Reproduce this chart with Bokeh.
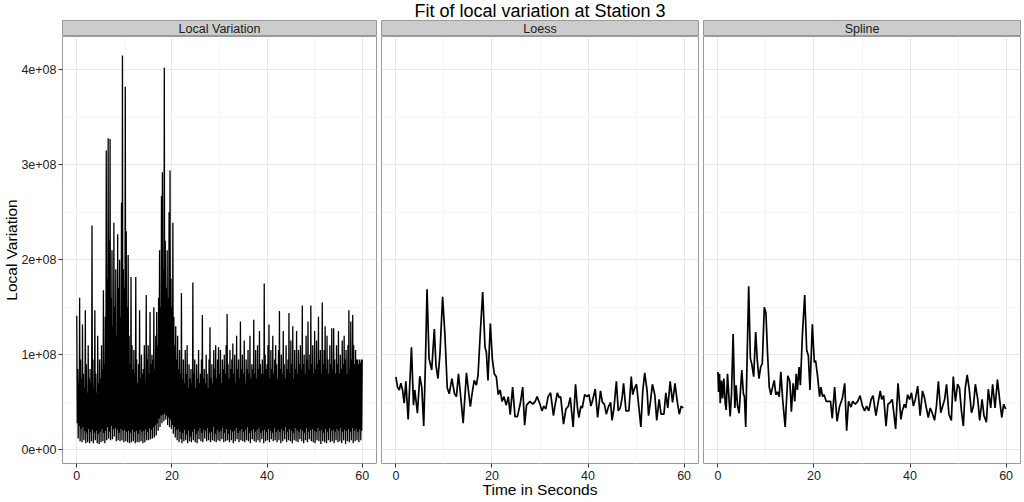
from bokeh.plotting import figure
from bokeh.models import (Range1d, FixedTicker, CustomJSTickFormatter, Label,
                          ColumnDataSource, Grid)
from bokeh.layouts import column, row
from bokeh.embed import file_html
from bokeh.resources import INLINE

TITLE = "Fit of local variation at Station 3"
PANELS = ["Local Variation", "Loess", "Spline"]
X_LABEL = "Time in Seconds"
Y_LABEL = "Local Variation"
x_ticks = [0, 20, 40, 60]
x_minor = [10, 30, 50]
y_ticks = [0, 1e8, 2e8, 3e8, 4e8]
y_minor = [0.5e8, 1.5e8, 2.5e8, 3.5e8]
SCALE = 1e8          # values below are in units of 1e8
LV_STEP = 0.1        # sampling interval (s) of the raw local variation

# one row per second (0.1 s samples), in units of 1e8
local_variation = [
    1.41, 0.28, 0.85, 0.12, 0.70, 0.25, 1.60, 0.09, 0.95, 0.22,
    0.75, 0.08, 1.32, 0.24, 0.80, 0.10, 0.65, 0.20, 1.47, 0.07,
    0.90, 0.18, 0.60, 0.08, 1.10, 0.22, 0.75, 0.07, 0.85, 0.19,
    0.70, 0.09, 2.36, 0.21, 0.95, 0.07, 0.65, 0.18, 1.47, 0.10,
    0.80, 0.20, 0.60, 0.07, 1.20, 0.17, 0.70, 0.06, 0.95, 0.19,
    0.75, 0.08, 1.10, 0.22, 0.85, 0.09, 1.68, 0.18, 0.90, 0.07,
    1.40, 0.20, 3.15, 0.10, 1.80, 0.24, 3.28, 0.12, 2.20, 0.19,
    3.27, 0.10, 1.60, 0.25, 2.10, 0.11, 1.30, 0.22, 2.39, 0.14,
    1.50, 0.23, 1.90, 0.09, 1.20, 0.21, 2.27, 0.10, 1.70, 0.18,
    2.00, 0.09, 1.40, 0.22, 2.60, 0.10, 4.15, 0.20, 1.90, 0.08,
    1.70, 0.21, 3.82, 0.09, 2.30, 0.19, 1.50, 0.08, 2.05, 0.20,
    1.20, 0.07, 0.90, 0.18, 1.82, 0.08, 1.10, 0.21, 0.85, 0.09,
    1.05, 0.19, 0.80, 0.07, 1.82, 0.20, 0.95, 0.08, 0.70, 0.17,
    0.90, 0.08, 1.47, 0.21, 0.75, 0.09, 1.00, 0.19, 0.80, 0.07,
    0.85, 0.20, 1.10, 0.08, 0.70, 0.22, 1.63, 0.10, 0.95, 0.19,
    1.10, 0.10, 0.80, 0.23, 1.45, 0.11, 0.90, 0.21, 1.00, 0.12,
    0.95, 0.24, 1.50, 0.13, 0.85, 0.26, 1.20, 0.15, 1.45, 0.28,
    1.10, 0.20, 1.60, 0.33, 2.10, 0.24, 1.50, 0.36, 2.67, 0.28,
    2.92, 0.37, 1.90, 0.30, 4.02, 0.38, 2.20, 0.32, 1.70, 0.36,
    2.10, 0.26, 1.60, 0.34, 2.50, 0.24, 2.94, 0.32, 1.80, 0.22,
    1.50, 0.26, 2.39, 0.17, 1.40, 0.24, 1.10, 0.13, 1.30, 0.21,
    0.95, 0.10, 1.20, 0.22, 0.85, 0.08, 1.05, 0.19, 0.80, 0.11,
    1.65, 0.07, 0.75, 0.18, 0.95, 0.09, 0.70, 0.21, 1.05, 0.10,
    0.80, 0.16, 1.10, 0.07, 0.65, 0.20, 0.90, 0.09, 0.75, 0.14,
    0.85, 0.08, 0.70, 0.19, 1.76, 0.10, 0.80, 0.22, 0.95, 0.08,
    0.65, 0.17, 0.90, 0.07, 0.75, 0.20, 1.05, 0.11, 0.70, 0.23,
    0.80, 0.09, 0.95, 0.18, 1.42, 0.08, 0.75, 0.21, 0.85, 0.12,
    0.70, 0.20, 1.00, 0.09, 0.80, 0.23, 0.65, 0.10, 0.95, 0.18,
    1.29, 0.08, 0.75, 0.19, 0.90, 0.10, 0.70, 0.24, 1.05, 0.09,
    0.85, 0.17, 1.10, 0.08, 0.75, 0.21, 0.95, 0.10, 1.08, 0.19,
    0.80, 0.09, 1.05, 0.20, 0.70, 0.11, 0.95, 0.23, 0.85, 0.08,
    1.00, 0.18, 0.80, 0.09, 1.10, 0.22, 1.43, 0.10, 0.90, 0.17,
    0.75, 0.08, 1.05, 0.21, 0.85, 0.10, 0.95, 0.19, 1.12, 0.07,
    0.80, 0.20, 1.00, 0.09, 0.70, 0.23, 1.20, 0.11, 0.85, 0.18,
    0.95, 0.08, 0.75, 0.20, 1.35, 0.10, 0.85, 0.22, 1.00, 0.09,
    0.80, 0.19, 1.15, 0.08, 0.70, 0.21, 0.95, 0.10, 0.85, 0.24,
    1.05, 0.09, 0.80, 0.18, 1.20, 0.07, 0.75, 0.20, 0.90, 0.11,
    0.85, 0.22, 1.37, 0.09, 0.80, 0.19, 1.05, 0.08, 0.75, 0.21,
    1.10, 0.10, 0.85, 0.23, 1.25, 0.08, 0.90, 0.18, 0.80, 0.11,
    0.95, 0.20, 0.80, 0.07, 1.75, 0.21, 1.00, 0.09, 0.85, 0.19,
    0.90, 0.10, 1.10, 0.22, 1.32, 0.08, 0.75, 0.20, 1.05, 0.11,
    0.85, 0.18, 1.20, 0.09, 0.80, 0.23, 0.95, 0.10, 1.10, 0.19,
    0.90, 0.08, 0.75, 0.21, 1.05, 0.10, 1.46, 0.19, 0.85, 0.07,
    1.00, 0.22, 0.80, 0.09, 1.25, 0.20, 0.90, 0.11, 0.75, 0.24,
    1.10, 0.08, 0.85, 0.19, 0.95, 0.10, 1.44, 0.22, 0.80, 0.09,
    1.15, 0.20, 0.90, 0.07, 1.30, 0.18, 0.75, 0.10, 1.05, 0.23,
    0.85, 0.09, 1.25, 0.21, 0.80, 0.08, 1.05, 0.19, 0.90, 0.11,
    1.10, 0.22, 0.85, 0.09, 1.52, 0.20, 0.90, 0.07, 1.00, 0.18,
    0.80, 0.10, 1.20, 0.23, 0.95, 0.08, 1.35, 0.19, 0.85, 0.11,
    1.00, 0.21, 1.52, 0.09, 0.90, 0.22, 1.10, 0.08, 0.80, 0.20,
    1.25, 0.07, 0.85, 0.19, 1.15, 0.10, 0.90, 0.23, 1.40, 0.09,
    0.95, 0.20, 1.05, 0.06, 0.80, 0.21, 1.55, 0.09, 0.90, 0.18,
    1.05, 0.08, 1.30, 0.22, 0.85, 0.07, 1.20, 0.19, 0.95, 0.10,
    0.80, 0.23, 1.10, 0.08, 0.90, 0.20, 1.28, 0.09, 0.85, 0.21,
    1.28, 0.07, 0.95, 0.19, 0.80, 0.10, 1.10, 0.22, 0.90, 0.08,
    1.25, 0.20, 0.80, 0.09, 1.00, 0.23, 0.85, 0.07, 1.15, 0.19,
    0.90, 0.10, 1.20, 0.21, 0.95, 0.06, 1.05, 0.20, 0.80, 0.09,
    1.10, 0.22, 1.47, 0.08, 0.85, 0.19, 1.35, 0.10, 0.95, 0.23,
    1.42, 0.07, 1.10, 0.20, 0.90, 0.09, 1.05, 0.22, 0.95, 0.10,
    0.95, 0.19, 0.90, 0.08, 0.95, 0.21, 0.92, 0.10, 0.95, 0.20,
    0.95,
]

loess_time = [
    0, 0.34, 0.69, 1.03, 1.38, 1.72, 2.07, 2.55, 3.24, 3.66,
    3.93, 4.48, 4.97, 5.38, 5.79, 6.14, 6.48, 6.9, 7.45, 8.0,
    8.34, 8.76, 9.17, 9.72, 10.2, 10.69, 11.1, 11.66, 12.2, 12.6,
    13.03, 13.45, 14.0, 14.69, 15.17, 15.5, 15.86, 16.3, 16.76, 17.1,
    17.59, 18.07, 18.55, 18.83, 19.17, 19.66, 20.07, 20.48, 20.9, 21.3,
    21.7, 22.1, 22.5, 22.97, 23.4, 23.8, 24.3, 24.8, 25.3, 25.9,
    26.4, 26.8, 27.2, 27.9, 28.5, 29.0, 29.4, 30.0, 30.4, 30.8,
    31.2, 31.7, 32.2, 32.5, 32.8, 33.1, 33.6, 34.0, 34.3, 34.9,
    35.4, 35.9, 36.3, 36.9, 37.4, 37.8, 38.1, 38.5, 38.8, 39.3,
    39.8, 40.2, 40.6, 41.0, 41.5, 42.0, 42.6, 43.0, 43.4, 43.8,
    44.3, 44.7, 45.0, 45.4, 45.9, 46.3, 46.7, 47.1, 47.4, 47.9,
    48.5, 49.0, 49.3, 49.7, 50.1, 50.6, 51.0, 51.4, 51.8, 52.3,
    52.6, 53.0, 53.4, 53.9, 54.3, 54.8, 55.2, 55.8, 56.2, 56.6,
    57.1, 57.6, 58.1, 58.6, 59.0, 59.4, 59.8,
]
loess_value = [
    0.767, 0.66, 0.63, 0.70, 0.63, 0.49, 0.72, 0.32, 1.08, 0.47,
    0.63, 0.385, 0.774, 0.66, 0.25, 0.906, 1.69, 0.96, 0.84, 1.27,
    0.89, 0.75, 1.01, 1.61, 1.22, 0.65, 0.59, 0.75, 0.59, 0.56,
    0.80, 0.58, 0.28, 0.81, 0.59, 0.455, 0.59, 0.73, 0.68, 0.785,
    1.25, 1.66, 1.08, 1.03, 0.73, 1.33, 0.96, 0.80, 0.77, 0.58,
    0.63, 0.51, 0.56, 0.47, 0.56, 0.37, 0.66, 0.35, 0.35, 0.49,
    0.66, 0.26, 0.47, 0.51, 0.48, 0.51, 0.56, 0.48, 0.41, 0.46,
    0.43, 0.56, 0.60, 0.48, 0.36, 0.46, 0.60, 0.55, 0.56, 0.27,
    0.43, 0.46, 0.55, 0.24, 0.69, 0.44, 0.34, 0.46, 0.44, 0.58,
    0.56, 0.58, 0.46, 0.53, 0.64, 0.34, 0.62, 0.50, 0.48, 0.375,
    0.46, 0.50, 0.31, 0.44, 0.72, 0.41, 0.44, 0.55, 0.70, 0.41,
    0.41, 0.77, 0.58, 0.65, 0.69, 0.44, 0.24, 0.62, 0.81, 0.62,
    0.36, 0.51, 0.69, 0.58, 0.31, 0.53, 0.375, 0.375, 0.60, 0.44,
    0.72, 0.50, 0.70, 0.50, 0.375, 0.46, 0.44,
]

spline_time = [
    0, 0.14, 0.34, 0.48, 0.76, 0.97, 1.24, 1.52, 1.72, 2.0,
    2.28, 2.55, 2.83, 3.17, 3.52, 3.79, 4.07, 4.41, 4.97, 5.31,
    5.52, 5.79, 6.07, 6.41, 6.76, 7.03, 7.45, 7.86, 8.2, 8.55,
    8.9, 9.24, 9.66, 10.0, 10.34, 10.69, 11.03, 11.38, 11.72, 12.07,
    12.41, 12.76, 13.1, 13.5, 14.0, 14.55, 14.97, 15.3, 15.66, 16.0,
    16.3, 16.55, 16.9, 17.17, 17.6, 18.07, 18.48, 18.83, 19.17, 19.66,
    20.07, 20.34, 20.76, 21.17, 21.45, 21.8, 22.1, 22.55, 23.1, 23.45,
    23.8, 24.3, 24.8, 25.3, 25.9, 26.4, 26.8, 27.2, 27.7, 28.07,
    28.6, 29.1, 29.6, 30.1, 30.55, 30.97, 31.4, 31.9, 32.3, 32.9,
    33.3, 33.8, 34.1, 34.5, 35.0, 35.4, 35.9, 36.3, 37.0, 37.5,
    38.1, 38.4, 38.8, 39.1, 39.5, 39.9, 40.3, 40.7, 41.1, 41.6,
    42.1, 42.6, 43.0, 43.4, 43.8, 44.2, 44.6, 45.1, 45.5, 45.9,
    46.4, 46.8, 47.2, 47.6, 48.1, 48.6, 49.0, 49.45, 49.9, 50.3,
    50.7, 51.1, 51.5, 51.9, 52.3, 52.8, 53.2, 53.6, 54.1, 54.5,
    55.0, 55.4, 55.9, 56.3, 56.8, 57.2, 57.7, 58.2, 58.7, 59.1,
    59.5, 59.9,
]
spline_value = [
    0.82, 0.61, 0.80, 0.49, 0.73, 0.54, 0.75, 0.49, 0.42, 0.80,
    0.56, 0.35, 0.59, 1.22, 0.44, 0.68, 0.47, 0.385, 0.84, 0.59,
    0.56, 0.24, 0.94, 1.72, 0.96, 0.91, 0.77, 1.24, 0.94, 0.75,
    0.87, 0.91, 1.50, 1.44, 1.01, 0.66, 0.58, 0.66, 0.73, 0.58,
    0.61, 0.56, 0.82, 0.52, 0.24, 0.78, 0.72, 0.40, 0.70, 0.51,
    0.80, 0.63, 0.87, 0.68, 1.22, 1.63, 1.05, 0.99, 0.63, 1.32,
    0.92, 0.94, 0.77, 0.56, 0.66, 0.56, 0.58, 0.51, 0.51, 0.51,
    0.33, 0.66, 0.30, 0.45, 0.54, 0.70, 0.20, 0.51, 0.45, 0.51,
    0.48, 0.51, 0.57, 0.46, 0.41, 0.46, 0.41, 0.53, 0.57, 0.36,
    0.48, 0.62, 0.53, 0.57, 0.25, 0.48, 0.50, 0.53, 0.22, 0.70,
    0.32, 0.41, 0.48, 0.44, 0.58, 0.53, 0.60, 0.46, 0.53, 0.67,
    0.36, 0.62, 0.55, 0.44, 0.34, 0.44, 0.39, 0.31, 0.46, 0.72,
    0.39, 0.46, 0.53, 0.69, 0.375, 0.31, 0.77, 0.51, 0.69, 0.65,
    0.41, 0.25, 0.65, 0.79, 0.65, 0.39, 0.46, 0.69, 0.53, 0.31,
    0.53, 0.36, 0.29, 0.64, 0.44, 0.69, 0.44, 0.74, 0.51, 0.34,
    0.48, 0.43,
]

lv_time = [round(i * LV_STEP, 1) for i in range(len(local_variation))]

series = [
    (lv_time, local_variation, 1.3),
    (loess_time, loess_value, 1.7),
    (spline_time, spline_value, 1.7),
]

FONT = "Liberation Sans"
FRAME_W = 317
FRAME_H = 427
TITLE_H = 20
STRIP_H = 16
BOTTOM = 38
# (left border, right border) for each panel column
BORDERS = [(59, 2), (3, 2), (3, 2)]

x_range = Range1d(-3, 63)
y_range = Range1d(-0.144e8, 4.35e8)

fmt = CustomJSTickFormatter(code="""
if (tick == 0) { return '0e+00'; }
return Math.round(tick / 1e8) + 'e+08';
""")


def bare(width, height, ml, mr):
    f = figure(width=width, height=height, x_range=Range1d(0, 1),
               y_range=Range1d(0, 1), output_backend="svg",
               toolbar_location=None, x_axis_location=None,
               y_axis_location=None, min_border_left=ml,
               min_border_right=mr, min_border_top=0, min_border_bottom=0)
    f.grid.visible = False
    return f


total_w = sum(ml + FRAME_W + mr for ml, mr in BORDERS)
title_fig = bare(total_w, TITLE_H, BORDERS[0][0], BORDERS[-1][1])
title_fig.outline_line_color = None
title_fig.add_layout(Label(x=0.5, y=0.5, text=TITLE, text_align="center",
                           text_baseline="middle", text_font=FONT,
                           text_font_size="18px", text_color="black"))

columns = []
for k, (name, (xs, vs, lw)) in enumerate(zip(PANELS, series)):
    ml, mr = BORDERS[k]
    w = ml + FRAME_W + mr

    strip = bare(w, STRIP_H, ml, mr)
    strip.background_fill_color = "#CCCCCC"
    strip.outline_line_color = "#9A9A9A"
    strip.add_layout(Label(x=0.5, y=0.5, text=name, text_align="center",
                           text_baseline="middle", text_font=FONT,
                           text_font_size="12.5px", text_color="#1A1A1A"))

    p = figure(width=w, height=FRAME_H + BOTTOM, x_range=x_range,
               y_range=y_range, output_backend="svg", toolbar_location=None,
               y_axis_location="left" if k == 0 else None,
               min_border_left=ml, min_border_right=mr, min_border_top=0,
               min_border_bottom=BOTTOM)
    p.grid.visible = False
    p.outline_line_color = "#9A9A9A"
    p.background_fill_color = "white"
    p.add_layout(Grid(dimension=0, ticker=FixedTicker(ticks=x_ticks, minor_ticks=x_minor),
                      grid_line_color="#E8E8E8", minor_grid_line_color="#F5F5F5"), "center")
    p.add_layout(Grid(dimension=1, ticker=FixedTicker(ticks=y_ticks, minor_ticks=y_minor),
                      grid_line_color="#E8E8E8", minor_grid_line_color="#F5F5F5"), "center")

    axes = list(p.xaxis) + (list(p.yaxis) if k == 0 else [])
    for ax in axes:
        ax.axis_line_color = None
        ax.major_tick_in = 0
        ax.major_tick_out = 4
        ax.major_tick_line_color = "#333333"
        ax.minor_tick_line_color = None
        ax.major_label_text_font = FONT
        ax.major_label_text_font_size = "12.5px"
        ax.major_label_text_color = "#222222"
        ax.major_label_standoff = 2
        ax.axis_label_text_font = FONT
        ax.axis_label_text_font_size = "15.5px"
        ax.axis_label_text_font_style = "normal"
        ax.axis_label_text_color = "black"
        ax.axis_label_standoff = -2
    p.xaxis.ticker = FixedTicker(ticks=x_ticks)
    p.xaxis.major_label_standoff = 3
    if k == 1:
        p.xaxis.axis_label = X_LABEL
    if k == 0:
        p.yaxis.ticker = FixedTicker(ticks=y_ticks)
        p.yaxis.formatter = fmt
        p.yaxis.axis_label = Y_LABEL

    src = ColumnDataSource(dict(x=xs, y=[v * SCALE for v in vs]))
    p.line("x", "y", source=src, line_color="black", line_width=lw)

    columns.append(column(strip, p, spacing=0))

layout = column(title_fig, row(*columns, spacing=0), spacing=0)

with open("out.html", "w") as fh:
    fh.write(file_html(layout, INLINE))
